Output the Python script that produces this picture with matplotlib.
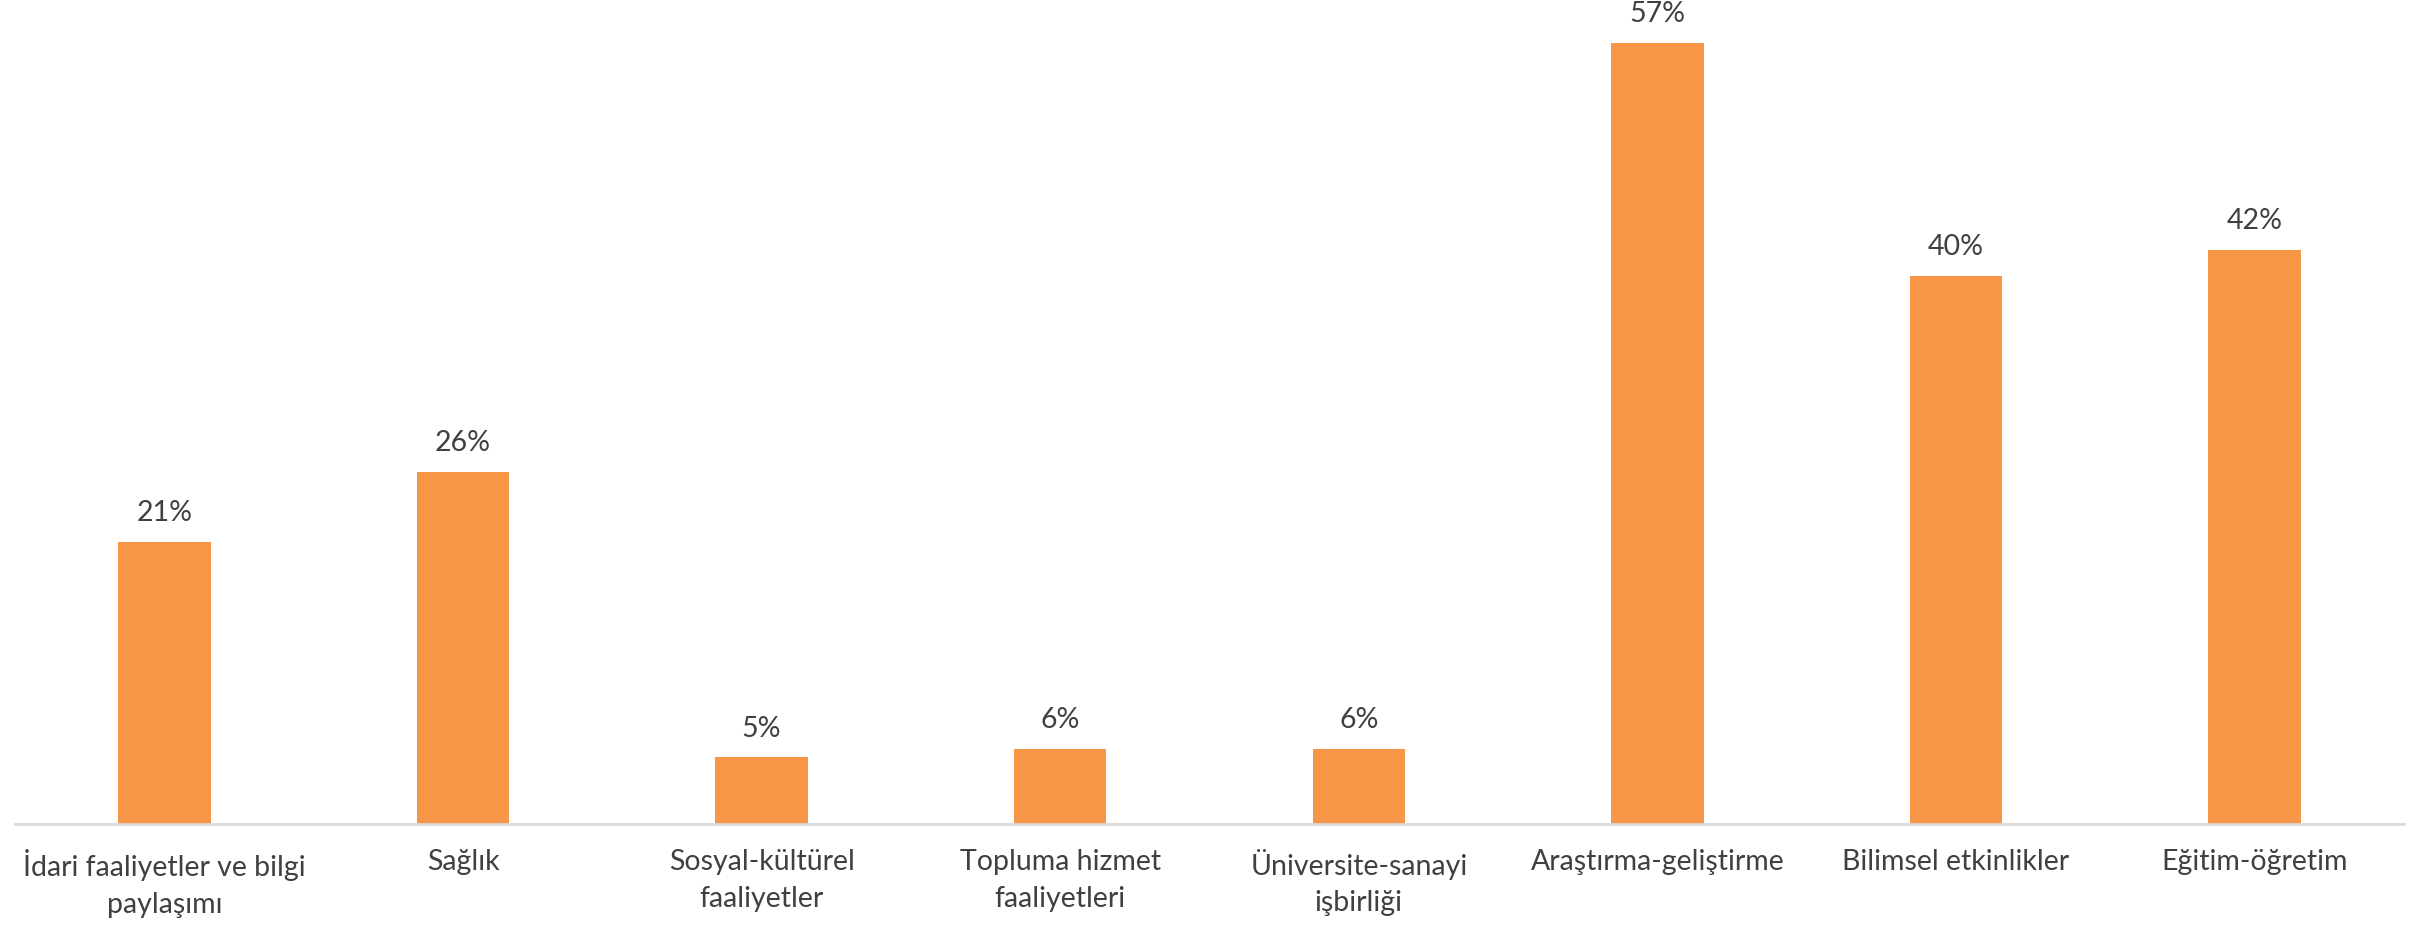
import matplotlib
matplotlib.use("Agg")
import matplotlib.pyplot as plt

# values (labels show rounded percent)
categories = [
    "İdari faaliyetler ve bilgi\npaylaşımı",
    "Sağlık",
    "Sosyal-kültürel\nfaaliyetler",
    "Topluma hizmet\nfaaliyetleri",
    "Üniversite-sanayi\nişbirliği",
    "Araştırma-geliştirme",
    "Bilimsel etkinlikler",
    "Eğitim-öğretim",
]
values = [20.6, 25.7, 4.9, 5.5, 5.5, 57.0, 40.0, 41.9]
labels = ["21%", "26%", "5%", "6%", "6%", "57%", "40%", "42%"]

bar_color = "#F79646"
text_color = "#404040"

plt.rcParams["font.family"] = ["Lato", "DejaVu Sans"]

fig = plt.figure(figsize=(24.25, 9.27), dpi=100)
ax = fig.add_axes([15 / 2425, 103 / 927, 2389 / 2425, 824 / 927])

x = list(range(len(categories)))
ax.bar(x, values, width=0.31, color=bar_color)

for xi, v, lab in zip(x, values, labels):
    ax.annotate(lab, (xi, v), xytext=(0, 11), textcoords="offset points",
                ha="center", va="bottom", fontsize=20.5, color=text_color)

ax.set_xlim(-0.5, len(categories) - 0.5)
ax.set_ylim(0, 60.1)
ax.set_xticks(x)
ax.set_xticklabels(categories, fontsize=20.5, color=text_color, linespacing=1.5)
ax.tick_params(axis="x", length=0, pad=18)
ax.set_yticks([])

for side in ["top", "right", "left"]:
    ax.spines[side].set_visible(False)
ax.spines["bottom"].set_color("#D9D9D9")
ax.spines["bottom"].set_linewidth(2)

fig.savefig("out.png", dpi=100)
